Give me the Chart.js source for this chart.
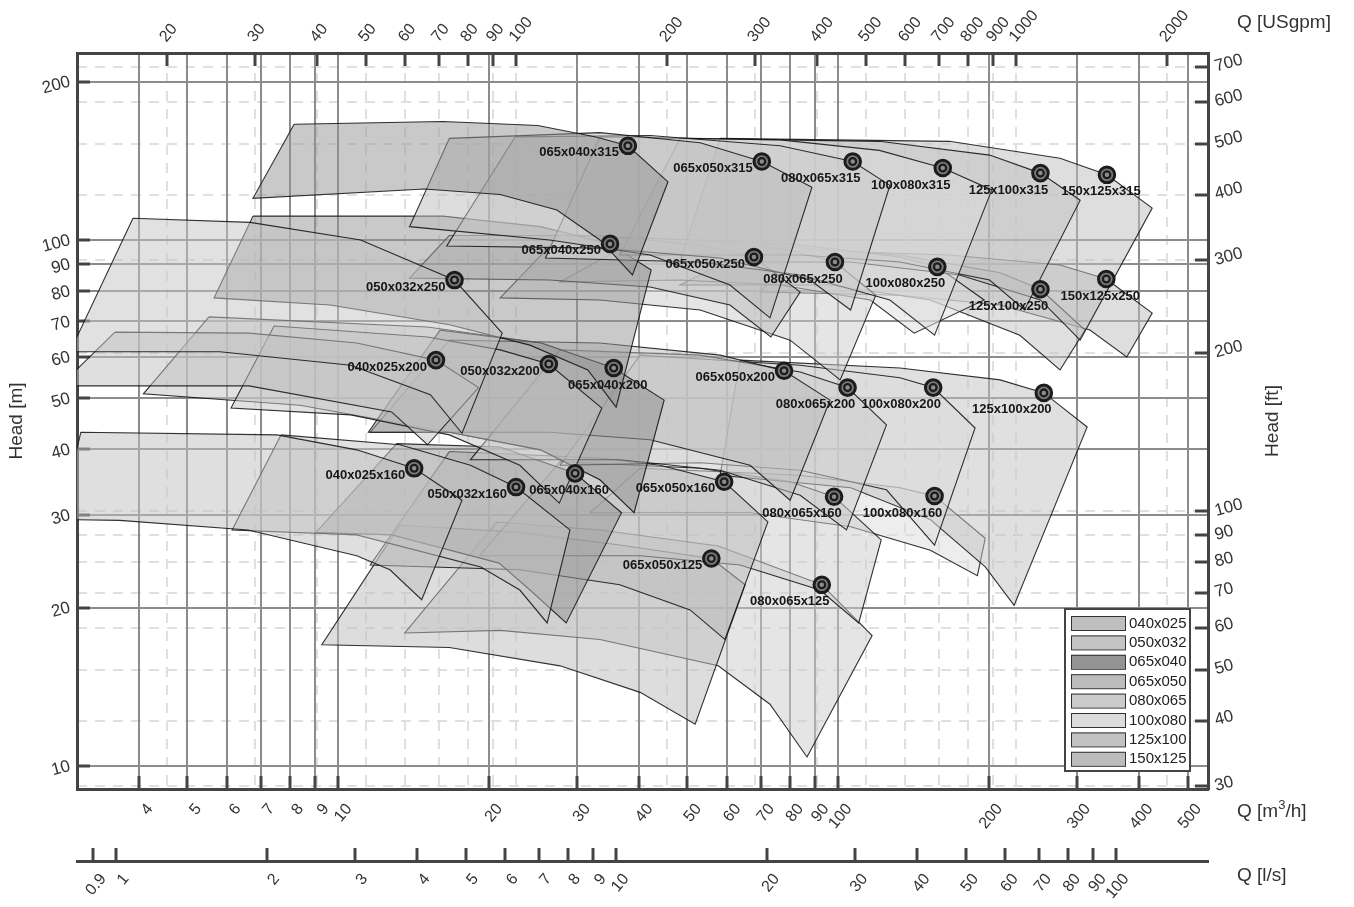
<!DOCTYPE html>
<html><head><meta charset="utf-8">
<script src="https://cdn.jsdelivr.net/npm/chart.js"></script>
<style>html,body{margin:0;padding:0;background:#fff}#wrap{width:1354px;height:907px;position:relative}</style>
</head><body><div id="wrap"><canvas id="c" width="1354" height="907"></canvas></div>
<script>
// ---------- data ----------
const families = ['040x025','050x032','065x040','065x050','080x065','100x080','125x100','150x125'];
const familyColors = ['#bfbfbf','#c4c4c4','#939393','#bcbcbc','#cbcbcb','#dcdcdc','#c2c2c2','#bdbdbd'];

const models = ['065x040x315','065x050x315','080x065x315','100x080x315','125x100x315','150x125x315',
  '050x032x250','065x040x250','065x050x250','080x065x250','100x080x250','125x100x250','150x125x250',
  '040x025x200','050x032x200','065x040x200','065x050x200','080x065x200','100x080x200','125x100x200',
  '040x025x160','050x032x160','065x040x160','065x050x160','080x065x160','100x080x160',
  '065x050x125','080x065x125'];
// best efficiency points: flow [m3/h], head [m]
const bepQ = [38.0,70.4,107,162,254,345, 17.1,35.0,67.9,98.6,158,254,344, 15.7,26.4,35.6,78.0,104.5,155,258, 14.2,22.7,29.8,59.2,98.2,156, 55.8,92.8];
const bepH = [151,141,141,137,134,133, 83.9,98.3,92.8,90.8,88.9,80.6,84.3, 59.1,58.1,57.1,56.4,52.4,52.4,51.2, 36.8,33.9,36.0,34.7,32.5,32.6, 24.8,22.1];
const labelSide = ['L','L','BL','BL','BL','B', 'L','L','L','BL','BL','BL','B', 'L','L','B','L','BL','BL','BL', 'L','L','B','L','BL','BL', 'L','BL'];

// operating-range outlines: max-impeller curve (left->right), right edge, min-impeller curve (right->left)
const outlineQ = [
 [8.17,16.2,25.1,32.8,38.0,45.7,38.8,33.4,27.4,21.1,14.9,6.76],
 [16.7,33.4,53,70.4,88.7,73.1,60.8,42.1,26.5,13.9],
 [22.6,42.1,76.6,107,127,106,87.9,58.1,33.4,16.5],
 [33.4,76.6,121,162,203,156,127,84,53,26],
 [48.3,121,201,254,305,236,201,133,84,36.6],
 [58.1,167,278,345,425,305,254,175,106,48.3],
 [3.89,6.67,11.1,17.1,21.3,17.7,15.3,10.6,5.81,2.91],
 [6.76,16.2,25.4,35.0,42.3,36.0,31.6,24.2,16.7,9.64,5.65],
 [16.7,33.4,53,67.9,84,73.4,60.8,42.1,26.5,13.9],
 [27.8,53,80.2,98.6,119,101,80.2,53,33.4,21.1],
 [40.2,84,133,158,196,142,116,76.6,48.3,27.8],
 [69.8,133,211,254,312,278,231,153,96.4,48.3],
 [84,167,278,344,425,378,319,211,133,69.8],
 [3.58,6.64,10.9,15.7,19.1,15.1,12.8,6.64,2.78],
 [7.45,15.1,21.1,26.4,33.7,27.7,23.1,16.7,10.6,6.11],
 [16.0,25.5,35.6,44.9,39.1,33.4,25.4,16.7,11.5],
 [16.7,33.4,58.1,78.0,96.4,80.2,66.7,42.1,26.5,11.6],
 [27.8,53,84,104.5,125,104,84,58.1,36.6,18.4],
 [40.2,84,133,155,188,156,125,84,53,27.8],
 [63.7,133,211,258,315,225,197,153,106,58.1],
 [3.06,7.55,10.9,14.2,17.7,14.7,12.7,10.9,6.61,3.66,2.78],
 [7.69,13.3,18.4,22.7,29.1,26.2,23.1,19.3,10.9,6.14],
 [13.1,21.1,29.8,36.9,28.6,24.2,21.0,12.8,9.03],
 [16.7,33.4,44.1,59.2,72.4,59.4,50.6,36.6,23.1,11.6],
 [27.8,53,80.2,98.2,122,110,92,63.7,40.2,19.2],
 [40.2,84,133,156,197,190,153,106,66.7,31.9],
 [13.3,23.1,36.6,55.8,65.2,51.8,40.2,27.8,16.7,9.28],
 [20.8,33.4,57.6,92.8,117,86.7,73.1,57.6,33.4,21.1,13.6]
];
const outlineH = [
 [166,168,165,157,151,129,85.8,100,114,122,125,120],
 [156,160,153,141,126,71.1,82.1,93.6,100,106],
 [157,158,151,141,127,73.6,83.9,92.4,96.5,97.4],
 [157,155,148,137,124.5,65.9,76.9,85.8,90.8,92.4],
 [156,154,145,134,119,73.6,83.9,90.8,93.6,93.6],
 [156,154,143,133,115,64.5,76.9,85.8,90.8,90.8],
 [110,108,100,83.9,66.5,42.9,50.8,57.8,61.3,61.3],
 [111,111,106,98.3,87.7,48.1,56.6,63.1,69.0,75.2,77.6],
 [102,102,97.8,92.8,79.6,65.4,75.2,81.4,83.9,84.6],
 [102,100,95.7,90.8,78.5,54.2,64.5,73.6,76.9,77.6],
 [101,97.8,92.8,88.9,76.9,66.5,76.9,82.1,83.9,83.2],
 [97.8,93.6,86.6,80.6,67.4,56.6,65.9,76.9,82.1,82.1],
 [95.7,93.6,89.6,84.3,72.6,59.9,67.4,75.2,78.5,79.6],
 [66.8,66.5,63.7,59.1,52.4,40.8,47.1,52.8,52.8],
 [68.6,65.4,61.8,58.1,47.9,31.6,37.3,42.6,46.5,47.9],
 [67.4,63.7,57.1,49.6,30.3,35.0,39.9,43.1,43.1],
 [64.5,63.7,60.4,56.4,49.6,32.0,37.3,41.7,43.1,43.1],
 [61.8,60.4,56.1,52.4,44.5,28.1,32.7,36.5,38.2,38.2],
 [60.4,57.8,54.7,52.4,43.9,26.3,33.5,36.5,37.7,37.3],
 [59.1,57.1,54.2,51.2,44.1,20.2,23.9,29.4,33.8,35.7],
 [43.1,42.6,39.9,36.8,32.0,20.7,23.6,25.1,28.1,29.3,29.4],
 [42.6,40.8,37.3,33.9,28.1,18.7,21.6,23.9,27.5,28.1],
 [41.0,40.4,36.0,30.3,18.7,21.6,24.3,27.5,27.8],
 [39.6,38.5,37.3,34.7,29.1,17.4,19.8,22.1,23.6,24.1],
 [37.9,36.8,34.7,32.5,26.9,18.7,21.6,24.1,25.1,25.1],
 [36.8,35.7,33.8,32.6,27.1,23.0,25.7,28.5,30.3,30.3],
 [28.7,27.8,26.3,24.8,22.1,12.0,13.8,15.5,16.8,17.0],
 [29.1,28.1,26.2,22.1,17.7,10.4,13.1,15.5,17.4,18.1,17.9]
];
// unlabelled extra range (light) in the 200 mm group
const extraFamily = ['050x032'];
const extraQ = [[5.52,15.1,25.5,35.6,44.9,39.1,33.4,25.4,16.7,8.39,4.08]];
const extraH = [[71.4,68.3,63.7,57.1,49.6,30.3,35.0,39.9,43.1,48.5,51.0]];

const ticksM3h = [4,5,6,7,8,9,10,20,30,40,50,60,70,80,90,100,200,300,400,500];
const ticksGpm = [20,30,40,50,60,70,80,90,100,200,300,400,500,600,700,800,900,1000,2000];
const ticksLs = [0.9,1,2,3,4,5,6,7,8,9,10,20,30,40,50,60,70,80,90,100];
const ticksHeadM = [10,20,30,40,50,60,70,80,90,100,200];
const ticksHeadFt = [30,40,50,60,70,80,90,100,200,300,400,500,600,700];
const qMin = 3.006, qMax = 549.5, hMin = 9.04, hMax = 226.7;
const Q_GPM = 4.402868, M_FT = 3.280840, Q_LS = 1/3.6;

// ---------- helpers ----------
function rgba(hex, a){ const n=parseInt(hex.slice(1),16); return `rgba(${n>>16&255},${n>>8&255},${n&255},${a})`; }
function fixedTicks(vals){ return s => { s.ticks = vals.map(v => ({value:v})); }; }
const FONT = 'Liberation Sans, Arial, Helvetica, sans-serif';
const tickFont = {family:FONT, size:16};

function polygon(label, qs, hs, fam){
  const pts = qs.map((q,k) => ({x:q, y:hs[k]}));
  pts.push({x:qs[0], y:hs[0]});
  return {label, data:pts, showLine:true, fill:'shape', tension:0,
    backgroundColor: rgba(familyColors[fam], 0.5), borderColor:'rgba(15,15,15,0.85)', borderWidth:1.1,
    pointRadius:0, order:5, xAxisID:'x', yAxisID:'y'};
}
const polyDatasets = models.map((m,i) => polygon(m, outlineQ[i], outlineH[i], families.indexOf(m.slice(0,7))));
const extraDatasets = extraQ.map((qs,i) => polygon('range', qs, extraH[i], families.indexOf(extraFamily[i])));
const bepPts = bepQ.map((q,i) => ({x:q, y:bepH[i]}));
const markerOuter = {label:'BEP', data:bepPts, showLine:false, pointRadius:7.8, pointBorderWidth:3,
  pointBackgroundColor:'#7c7c7c', pointBorderColor:'#1c1c1c', order:1, xAxisID:'x', yAxisID:'y'};
const markerInner = {label:'BEP core', data:bepPts, showLine:false, pointRadius:3.4, pointBorderWidth:2.3,
  pointBackgroundColor:'#8c8c8c', pointBorderColor:'#1c1c1c', order:0, xAxisID:'x', yAxisID:'y'};

const decorPlugin = {
  id:'decor',
  afterDatasetsDraw(chart){
    const ctx = chart.ctx, sx = chart.scales.x, sy = chart.scales.y;
    ctx.save();
    ctx.font = `bold 13px ${FONT}`; ctx.fillStyle = '#161616'; ctx.textBaseline = 'middle';
    models.forEach((m,i) => {
      const px = sx.getPixelForValue(bepQ[i]), py = sy.getPixelForValue(bepH[i]);
      const s = labelSide[i];
      if (s === 'L') { ctx.textAlign='right'; ctx.fillText(m, px-9, py+7); }
      else if (s === 'BL') { ctx.textAlign='center'; ctx.fillText(m, px-32, py+17); }
      else { ctx.textAlign='center'; ctx.fillText(m, px-6, py+17); }
    });
    ctx.restore();
  },
  afterDraw(chart){
    const ctx = chart.ctx;
    ctx.save();
    // legend
    const lx = 1065, ly = 609, lw = 125, lh = 162;
    ctx.fillStyle = '#fff'; ctx.fillRect(lx, ly, lw, lh);
    ctx.strokeStyle = '#444'; ctx.lineWidth = 2; ctx.strokeRect(lx, ly, lw, lh);
    ctx.font = `15px ${FONT}`; ctx.textBaseline='middle'; ctx.textAlign='left';
    families.forEach((f,i) => {
      const cy = 623 + i*19.4;
      ctx.fillStyle = familyColors[i]; ctx.fillRect(1071, cy-7, 54, 14);
      ctx.strokeStyle = '#333'; ctx.lineWidth = 1; ctx.strokeRect(1071.5, cy-6.5, 54, 14);
      ctx.fillStyle = '#222'; ctx.fillText(f, 1129, cy+0.5);
    });
    // axis titles
    ctx.fillStyle = '#333'; ctx.font = `19px ${FONT}`;
    ctx.textAlign = 'center';
    ctx.save(); ctx.translate(17, 421); ctx.rotate(-Math.PI/2); ctx.fillText('Head [m]', 0, 0); ctx.restore();
    ctx.save(); ctx.translate(1273, 421); ctx.rotate(-Math.PI/2); ctx.fillText('Head [ft]', 0, 0); ctx.restore();
    ctx.textAlign = 'left';
    ctx.fillText('Q [USgpm]', 1237, 23);
    ctx.fillText('Q [l/s]', 1237, 876);
    let x = 1237; const y = 812;
    ctx.fillText('Q [m', x, y); x += ctx.measureText('Q [m').width;
    ctx.font = `13px ${FONT}`; ctx.fillText('3', x, y-7); x += ctx.measureText('3').width;
    ctx.font = `19px ${FONT}`; ctx.fillText('/h]', x, y);
    ctx.restore();
  }
};

function tickOpts(rot, pad, off){ return {autoSkip:false, minRotation:rot, maxRotation:rot, padding:pad, labelOffset:off||0, font:tickFont, color:'#333', callback:v => String(v)}; }

new Chart(document.getElementById('c'), {
  type:'scatter',
  data:{datasets:[markerInner, markerOuter, ...polyDatasets, ...extraDatasets]},
  plugins:[decorPlugin],
  options:{
    responsive:false, animation:false, events:[], devicePixelRatio:1,
    layout:{padding:0},
    plugins:{legend:{display:false}, tooltip:{enabled:false}},
    scales:{
      x:{type:'logarithmic', position:'bottom', weight:0, min:qMin, max:qMax, bounds:'data',
        afterBuildTicks:fixedTicks(ticksM3h), afterFit:s=>{s.height=72;},
        ticks:tickOpts(50, 24, 11),
        grid:{color:'#8c8c8c', lineWidth:2, tickLength:-13, tickColor:'#444', tickWidth:3, z:-1},
        border:{color:'#444', width:3}},
      x3:{type:'logarithmic', position:'bottom', weight:1, min:qMin*Q_LS, max:qMax*Q_LS, bounds:'data',
        afterBuildTicks:fixedTicks(ticksLs), afterFit:s=>{s.height=46;},
        ticks:tickOpts(50, 22, 10),
        grid:{drawOnChartArea:false, color:'#444', lineWidth:2, tickLength:-13, tickColor:'#444', tickWidth:3},
        border:{color:'#444', width:3}},
      x2:{type:'logarithmic', position:'top', min:qMin*Q_GPM, max:qMax*Q_GPM, bounds:'data',
        afterBuildTicks:fixedTicks(ticksGpm), afterFit:s=>{s.height=53;},
        ticks:tickOpts(50, 20, 11),
        grid:{color:'#e0e0e0', lineWidth:2, tickLength:-13, tickColor:'#444', tickWidth:3, z:-2},
        border:{color:'#444', width:3, dash:[10,8]}},
      y:{type:'logarithmic', position:'left', min:hMin, max:hMax, bounds:'data',
        afterBuildTicks:fixedTicks(ticksHeadM), afterFit:s=>{s.width=77;},
        ticks:Object.assign(tickOpts(15, 20), {font:{family:FONT, size:17}}),
        grid:{color:'#8c8c8c', lineWidth:2, tickLength:-13, tickColor:'#444', tickWidth:3, z:-1},
        border:{color:'#444', width:3}},
      y2:{type:'logarithmic', position:'right', min:hMin*M_FT, max:hMax*M_FT, bounds:'data',
        afterBuildTicks:fixedTicks(ticksHeadFt), afterFit:s=>{s.width=146;},
        ticks:Object.assign(tickOpts(15, 20), {font:{family:FONT, size:17}}),
        grid:{color:'#e0e0e0', lineWidth:2, tickLength:-13, tickColor:'#444', tickWidth:3, z:-2},
        border:{color:'#444', width:3, dash:[10,8]}}
    }
  }
});
</script></body></html>
